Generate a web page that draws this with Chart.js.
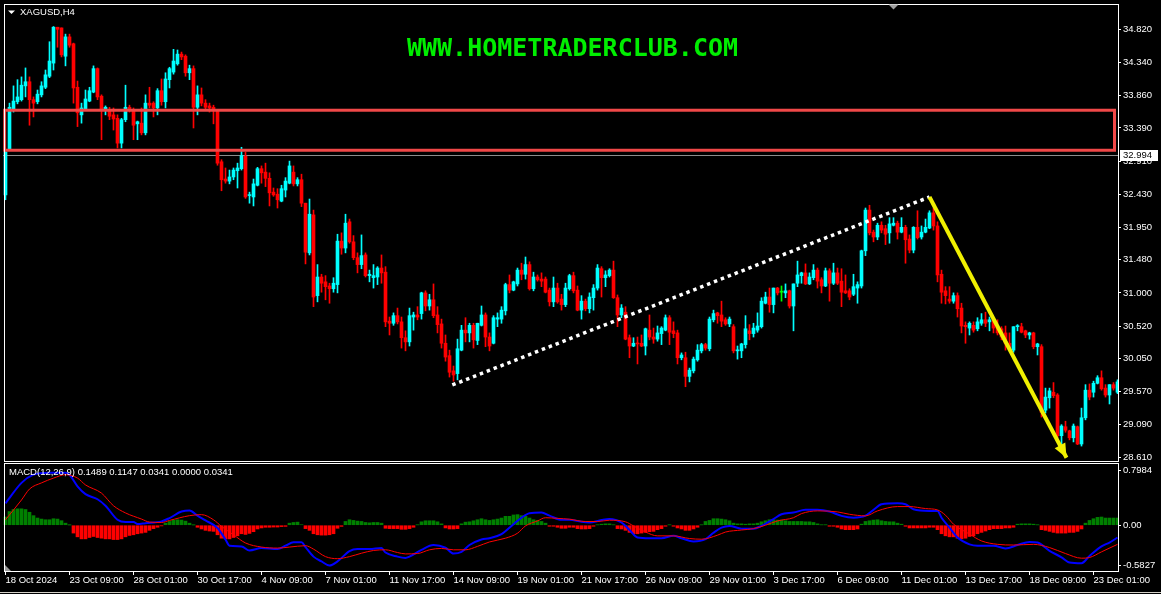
<!DOCTYPE html>
<html>
<head>
<meta charset="utf-8">
<title>XAGUSD,H4</title>
<script src="https://cdn.jsdelivr.net/npm/chart.js@4.4.1/dist/chart.umd.min.js"></script>
<style>
  html, body { margin: 0; padding: 0; background: #000; overflow: hidden; }
  #wrap { position: relative; width: 1161px; height: 594px; }
  canvas { position: absolute; left: 0; }
  #price { top: 0; }
  #macd { top: 462px; }
</style>
</head>
<body>
<div id="wrap">
  <canvas id="price" width="1161" height="462"></canvas>
  <canvas id="macd" width="1161" height="132"></canvas>
</div>
<script>
// H4 bars, one entry per bar (18 Oct 2024 17:00 ... 23 Dec 2024)
const opens = [
  32.42, 33.09, 33.65, 33.77, 33.80, 34.00, 34.06, 33.80, 33.77, 33.87,
  33.98, 34.14, 34.33, 34.85, 34.84, 34.43, 34.71, 34.61, 33.98, 33.58,
  33.67, 33.78, 33.91, 34.25, 33.85, 33.65, 33.65, 33.58, 33.53, 33.17,
  33.51, 33.69, 33.65, 33.45, 33.46, 33.32, 33.75, 33.75, 33.68, 33.93,
  33.77, 34.09, 34.20, 34.32, 34.46, 34.43, 34.19, 34.25, 33.69, 33.87,
  33.75, 33.71, 33.69, 33.64, 32.90, 32.65, 32.62, 32.68, 32.77, 32.80,
  32.98, 32.41, 32.39, 32.56, 32.80, 32.75, 32.66, 32.46, 32.43, 32.33,
  32.49, 32.59, 32.75, 32.58, 32.64, 32.30, 31.58, 32.13, 30.96, 31.23,
  31.16, 31.10, 31.06, 31.12, 31.75, 31.65, 32.03, 31.74, 31.51, 31.41,
  31.55, 31.25, 31.22, 31.23, 31.36, 31.30, 30.59, 30.56, 30.67, 30.58,
  30.35, 30.29, 30.65, 30.68, 30.70, 31.00, 30.81, 30.90, 30.68, 30.55,
  30.27, 30.09, 29.87, 29.83, 30.17, 30.46, 30.42, 30.53, 30.31, 30.53,
  30.68, 30.36, 30.27, 30.62, 30.62, 30.74, 31.12, 31.04, 31.13, 31.33,
  31.27, 31.41, 31.06, 31.23, 31.20, 31.20, 31.04, 30.87, 31.07, 30.91,
  30.83, 31.06, 31.25, 31.04, 30.75, 30.88, 30.77, 30.93, 31.07, 31.35,
  31.22, 31.25, 31.33, 30.93, 30.68, 30.72, 30.35, 30.23, 30.27, 30.27,
  30.23, 30.46, 30.36, 30.33, 30.41, 30.46, 30.64, 30.45, 30.42, 30.06,
  30.06, 29.79, 29.87, 30.03, 30.16, 30.25, 30.19, 30.61, 30.71, 30.68,
  30.61, 30.55, 30.51, 30.16, 30.16, 30.25, 30.45, 30.41, 30.46, 30.51,
  30.85, 30.94, 30.83, 31.07, 31.01, 31.00, 31.03, 30.81, 31.14, 31.25,
  31.29, 31.13, 31.22, 31.33, 31.19, 31.10, 31.32, 31.14, 31.29, 31.17,
  31.03, 31.03, 30.98, 31.07, 31.10, 31.61, 32.20, 31.88, 31.81, 31.98,
  31.93, 31.87, 31.98, 32.01, 31.88, 31.95, 31.78, 31.62, 31.95, 31.81,
  31.88, 31.94, 32.16, 31.97, 31.27, 31.03, 30.91, 30.88, 30.96, 30.78,
  30.53, 30.49, 30.53, 30.48, 30.56, 30.61, 30.58, 30.61, 30.51, 30.48,
  30.42, 30.27, 30.17, 30.51, 30.51, 30.45, 30.39, 30.42, 30.22, 30.22,
  29.30, 29.48, 29.56, 29.52, 28.93, 29.06, 29.00, 28.90, 29.06, 28.81,
  29.19, 29.59, 29.56, 29.69, 29.77, 29.62, 29.52, 29.67, 29.56
];
const highs = [
  33.07, 33.75, 34.00, 34.09, 34.13, 34.26, 34.13, 33.84, 33.94, 34.06,
  34.23, 34.64, 34.86, 34.85, 34.84, 34.75, 34.75, 34.62, 34.07, 33.75,
  33.94, 33.98, 34.29, 34.26, 33.87, 33.71, 33.69, 33.68, 33.58, 33.53,
  34.01, 33.72, 33.68, 33.49, 33.68, 33.87, 33.98, 33.77, 33.96, 34.10,
  34.19, 34.27, 34.53, 34.52, 34.49, 34.45, 34.30, 34.29, 34.00, 33.97,
  33.80, 33.75, 33.72, 33.65, 32.93, 32.81, 32.78, 32.81, 32.88, 33.11,
  33.04, 32.46, 32.65, 32.82, 32.84, 32.88, 32.74, 32.52, 32.51, 32.56,
  32.67, 32.91, 32.84, 32.67, 32.72, 32.30, 32.36, 32.20, 31.41, 31.27,
  31.25, 31.14, 31.22, 31.85, 31.87, 32.14, 32.07, 31.83, 31.58, 31.84,
  31.58, 31.33, 31.41, 31.38, 31.55, 31.38, 30.65, 30.71, 30.78, 30.65,
  30.45, 30.78, 30.72, 30.80, 31.01, 31.03, 30.98, 31.13, 30.80, 30.62,
  30.39, 30.17, 29.94, 30.33, 30.53, 30.64, 30.56, 30.56, 30.56, 30.81,
  30.71, 30.42, 30.67, 30.71, 30.80, 31.14, 31.26, 31.17, 31.36, 31.43,
  31.52, 31.45, 31.30, 31.26, 31.29, 31.23, 31.07, 31.23, 31.14, 30.98,
  31.14, 31.27, 31.30, 31.10, 30.96, 30.91, 31.00, 31.12, 31.41, 31.38,
  31.32, 31.35, 31.46, 30.97, 30.83, 30.80, 30.39, 30.35, 30.36, 30.39,
  30.49, 30.68, 30.49, 30.52, 30.51, 30.68, 30.67, 30.58, 30.46, 30.13,
  30.14, 29.91, 30.07, 30.25, 30.27, 30.27, 30.65, 30.75, 30.72, 30.88,
  30.64, 30.65, 30.54, 30.23, 30.27, 30.67, 30.54, 30.56, 30.71, 30.93,
  31.01, 31.07, 31.07, 31.08, 31.10, 31.13, 31.04, 31.13, 31.46, 31.30,
  31.42, 31.29, 31.41, 31.36, 31.22, 31.36, 31.35, 31.43, 31.36, 31.35,
  31.26, 31.06, 31.27, 31.16, 31.62, 32.23, 32.27, 31.91, 32.01, 32.03,
  31.98, 32.09, 32.09, 32.04, 32.09, 31.98, 31.84, 31.96, 32.19, 31.97,
  32.07, 32.19, 32.23, 32.03, 31.33, 31.09, 31.09, 31.00, 31.00, 30.85,
  30.58, 30.58, 30.58, 30.64, 30.70, 30.72, 30.65, 30.64, 30.61, 30.51,
  30.52, 30.42, 30.51, 30.54, 30.56, 30.46, 30.43, 30.43, 30.27, 30.25,
  29.62, 29.62, 29.70, 29.54, 29.09, 29.14, 29.01, 29.10, 29.07, 29.33,
  29.67, 29.68, 29.72, 29.80, 29.87, 29.67, 29.67, 29.70, 29.74
];
const lows = [
  32.35, 33.07, 33.62, 33.74, 33.78, 33.84, 33.43, 33.55, 33.74, 33.84,
  33.96, 34.12, 34.23, 34.56, 34.42, 34.29, 34.56, 33.75, 33.41, 33.46,
  33.65, 33.77, 33.90, 33.80, 33.22, 33.58, 33.51, 33.36, 33.10, 33.10,
  33.48, 33.62, 33.22, 33.22, 33.29, 33.29, 33.68, 33.55, 33.58, 33.72,
  33.68, 33.97, 34.17, 34.30, 34.38, 34.14, 34.09, 33.39, 33.58, 33.71,
  33.65, 33.62, 33.45, 32.85, 32.48, 32.59, 32.58, 32.64, 32.52, 32.78,
  32.37, 32.30, 32.26, 32.55, 32.59, 32.54, 32.26, 32.40, 32.23, 32.32,
  32.39, 32.58, 32.55, 32.55, 32.25, 31.42, 31.55, 30.80, 30.87, 31.01,
  30.90, 30.85, 31.01, 31.00, 31.56, 31.58, 31.72, 31.48, 31.29, 31.35,
  31.23, 31.16, 31.07, 31.12, 31.14, 30.51, 30.39, 30.53, 30.55, 30.20,
  30.16, 30.23, 30.46, 30.61, 30.62, 30.74, 30.75, 30.64, 30.42, 30.20,
  30.01, 29.78, 29.72, 29.74, 30.16, 30.29, 30.29, 30.20, 30.25, 30.52,
  30.22, 30.16, 30.26, 30.51, 30.56, 30.68, 31.00, 31.03, 31.10, 31.19,
  31.20, 31.04, 31.03, 31.17, 31.09, 31.00, 30.81, 30.80, 30.85, 30.75,
  30.80, 31.04, 31.00, 30.74, 30.62, 30.74, 30.71, 30.75, 31.04, 30.94,
  31.09, 31.23, 30.92, 30.51, 30.64, 30.32, 30.06, 30.22, 29.97, 30.22,
  30.10, 30.32, 30.27, 30.30, 30.25, 30.45, 30.25, 30.35, 29.97, 30.03,
  29.64, 29.71, 29.84, 30.01, 30.13, 30.17, 30.16, 30.58, 30.56, 30.51,
  30.53, 30.51, 30.13, 30.04, 30.06, 30.20, 30.32, 30.36, 30.43, 30.49,
  30.84, 30.72, 30.71, 30.97, 30.88, 30.93, 30.78, 30.45, 31.09, 31.14,
  31.12, 31.12, 31.19, 31.07, 31.00, 31.09, 30.88, 31.12, 31.12, 30.80,
  30.99, 30.90, 30.96, 30.85, 31.07, 31.54, 31.84, 31.74, 31.77, 31.87,
  31.70, 31.72, 31.97, 31.78, 31.87, 31.43, 31.58, 31.58, 31.78, 31.78,
  31.87, 31.93, 31.91, 31.16, 30.85, 30.84, 30.85, 30.85, 30.65, 30.42,
  30.27, 30.39, 30.43, 30.45, 30.53, 30.51, 30.45, 30.42, 30.39, 30.32,
  30.17, 30.19, 30.14, 30.45, 30.42, 30.35, 30.33, 30.19, 30.10, 29.20,
  29.26, 29.33, 29.48, 28.90, 28.77, 28.98, 28.87, 28.84, 28.80, 28.78,
  29.16, 29.45, 29.49, 29.68, 29.59, 29.49, 29.39, 29.59, 29.54
];
const closes = [
  33.04, 33.69, 33.78, 33.84, 34.01, 34.06, 33.80, 33.75, 33.88, 34.00,
  34.16, 34.36, 34.85, 34.82, 34.45, 34.71, 34.59, 33.97, 33.61, 33.68,
  33.81, 33.93, 34.25, 33.84, 33.65, 33.69, 33.56, 33.52, 33.17, 33.51,
  33.69, 33.65, 33.43, 33.48, 33.32, 33.75, 33.72, 33.68, 33.93, 33.77,
  34.10, 34.25, 34.36, 34.46, 34.42, 34.19, 34.25, 33.69, 33.87, 33.75,
  33.69, 33.68, 33.64, 32.88, 32.64, 32.62, 32.68, 32.78, 32.81, 32.99,
  32.39, 32.42, 32.58, 32.80, 32.74, 32.66, 32.45, 32.42, 32.35, 32.51,
  32.62, 32.84, 32.58, 32.64, 32.30, 31.59, 32.14, 30.94, 31.23, 31.14,
  31.09, 31.06, 31.14, 31.75, 31.65, 32.01, 31.74, 31.51, 31.41, 31.54,
  31.25, 31.27, 31.25, 31.36, 31.29, 30.58, 30.56, 30.67, 30.58, 30.35,
  30.29, 30.67, 30.68, 30.65, 31.00, 30.81, 30.90, 30.67, 30.54, 30.27,
  30.07, 29.85, 29.81, 30.19, 30.46, 30.42, 30.53, 30.32, 30.56, 30.68,
  30.36, 30.23, 30.64, 30.64, 30.75, 31.12, 31.04, 31.16, 31.33, 31.27,
  31.41, 31.06, 31.23, 31.19, 31.17, 31.01, 30.87, 31.07, 30.87, 30.83,
  31.07, 31.25, 31.03, 30.75, 30.88, 30.77, 30.94, 31.07, 31.36, 31.22,
  31.26, 31.33, 30.93, 30.68, 30.78, 30.33, 30.23, 30.27, 30.26, 30.23,
  30.48, 30.36, 30.33, 30.42, 30.49, 30.64, 30.43, 30.41, 30.06, 30.10,
  29.79, 29.88, 30.04, 30.17, 30.25, 30.20, 30.62, 30.70, 30.67, 30.59,
  30.55, 30.62, 30.16, 30.17, 30.26, 30.48, 30.41, 30.49, 30.52, 30.88,
  30.94, 30.83, 31.07, 31.00, 31.01, 31.03, 30.81, 31.13, 31.26, 31.29,
  31.13, 31.23, 31.33, 31.17, 31.10, 31.32, 31.14, 31.29, 31.14, 31.01,
  31.00, 30.94, 31.09, 31.12, 31.61, 32.20, 31.87, 31.81, 31.98, 31.91,
  31.85, 32.00, 32.01, 31.88, 31.95, 31.77, 31.62, 31.95, 31.80, 31.88,
  31.95, 32.16, 31.97, 31.26, 31.01, 30.96, 30.88, 30.96, 30.77, 30.52,
  30.51, 30.56, 30.46, 30.58, 30.61, 30.56, 30.61, 30.49, 30.42, 30.36,
  30.27, 30.20, 30.51, 30.52, 30.43, 30.39, 30.42, 30.22, 30.26, 29.27,
  29.49, 29.58, 29.51, 28.93, 29.07, 29.01, 28.90, 29.07, 28.81, 29.19,
  29.59, 29.49, 29.69, 29.77, 29.61, 29.52, 29.67, 29.62, 29.71
];

// MACD(12,26,9) histogram, one per bar
const macdHist = [
  0.12, 0.20, 0.23, 0.24, 0.24, 0.23, 0.19, 0.14, 0.105, 0.09,
  0.08, 0.08, 0.095, 0.09, 0.066, 0.03, 0.003, -0.115, -0.17, -0.20,
  -0.20, -0.18, -0.165, -0.18, -0.19, -0.20, -0.20, -0.21, -0.21, -0.20,
  -0.17, -0.15, -0.14, -0.125, -0.115, -0.105, -0.075, -0.05, -0.03, -0.01,
  0.03, 0.055, 0.075, 0.08, 0.075, 0.06, 0.03, 0.003, -0.03, -0.055,
  -0.075, -0.085, -0.09, -0.14, -0.19, -0.20, -0.20, -0.18, -0.155, -0.125,
  -0.135, -0.12, -0.095, -0.055, -0.04, -0.03, -0.03, -0.027, -0.027, -0.02,
  -0.017, 0.03, 0.04, 0.045, 0.007, -0.05, -0.075, -0.125, -0.14, -0.145,
  -0.145, -0.14, -0.125, -0.045, -0.017, 0.055, 0.08, 0.07, 0.06, 0.055,
  0.04, 0.035, 0.04, 0.04, 0.03, -0.045, -0.05, -0.05, -0.05, -0.06,
  -0.06, -0.05, -0.03, 0.005, 0.05, 0.065, 0.065, 0.065, 0.05, 0.02,
  -0.04, -0.055, -0.055, -0.05, 0.02, 0.045, 0.05, 0.065, 0.08, 0.095,
  0.08, 0.07, 0.08, 0.09, 0.105, 0.13, 0.13, 0.15, 0.155, 0.14,
  0.13, 0.105, 0.08, 0.07, 0.055, 0.03, -0.015, -0.015, -0.03, -0.045,
  -0.045, -0.03, -0.03, -0.05, -0.055, -0.055, -0.05, -0.015, 0.005, 0.015,
  0.02, 0.02, 0.005, -0.05, -0.055, -0.075, -0.105, -0.125, -0.125, -0.115,
  -0.105, -0.095, -0.09, -0.065, -0.05, -0.015, 0.005, -0.015, -0.04, -0.055,
  -0.075, -0.075, -0.055, -0.03, 0.005, 0.055, 0.07, 0.095, 0.095, 0.09,
  0.08, 0.065, 0.03, 0.02, 0.02, 0.015, 0.02, 0.02, 0.03, 0.05,
  0.065, 0.08, 0.08, 0.075, 0.075, 0.065, 0.055, 0.055, 0.055, 0.055,
  0.05, 0.05, 0.04, 0.02, 0.005, 0.005, -0.015, -0.015, -0.03, -0.055,
  -0.065, -0.065, -0.065, -0.055, 0.015, 0.055, 0.065, 0.075, 0.08, 0.065,
  0.055, 0.05, 0.05, 0.03, 0.015, -0.015, -0.04, -0.04, -0.04, -0.04,
  -0.04, -0.03, -0.03, -0.065, -0.125, -0.155, -0.17, -0.17, -0.19, -0.20,
  -0.19, -0.165, -0.155, -0.125, -0.105, -0.085, -0.065, -0.05, -0.05, -0.05,
  -0.04, -0.04, -0.03, 0.015, 0.02, 0.02, 0.02, 0.015, 0.005, -0.065,
  -0.075, -0.09, -0.105, -0.115, -0.115, -0.115, -0.105, -0.105, -0.09, -0.055,
  0.03, 0.07, 0.095, 0.115, 0.12, 0.105, 0.105, 0.105, 0.105
];

// MACD main line, read at these bars
const macdX = [0, 4, 7, 11, 15, 16, 18, 20, 23, 25, 28, 30, 32, 33, 35, 39, 41, 44, 46, 48,
  50, 53, 55, 56, 59, 61, 64, 68, 70, 72, 74, 75, 77, 79, 81, 83, 86, 88, 91, 94,
  95, 98, 100, 101, 104, 107, 110, 112, 114, 116, 119, 121, 124, 127, 129, 131, 134, 136, 139, 141,
  144, 146, 149, 151, 154, 156, 158, 161, 164, 167, 169, 172, 175, 177, 179, 181, 184, 187, 189, 192,
  194, 197, 200, 203, 206, 209, 212, 215, 217, 219, 223, 225, 227, 231, 233, 234, 236, 238, 241, 243,
  247, 250, 253, 256, 258, 261, 264, 266, 269, 271, 274, 276, 278];
const macdY = [0.32, 0.62, 0.74, 0.77, 0.77, 0.74, 0.57, 0.455, 0.38, 0.285, 0.08, 0.046, 0.046, 0.017, 0.03, 0.056, 0.105, 0.2, 0.217, 0.14,
  0.07, -0.04, -0.21, -0.30, -0.31, -0.37, -0.335, -0.35, -0.30, -0.25, -0.25, -0.32, -0.46, -0.53, -0.59, -0.53, -0.38, -0.35, -0.35, -0.335,
  -0.40, -0.46, -0.48, -0.46, -0.36, -0.29, -0.33, -0.415, -0.39, -0.29, -0.21, -0.19, -0.13, 0.015, 0.11, 0.175, 0.185, 0.14, 0.08, 0.08,
  0.05, 0.04, 0.075, 0.09, 0.04, -0.07, -0.18, -0.19, -0.19, -0.155, -0.19, -0.24, -0.205, -0.11, -0.035, -0.01, -0.05, -0.05, -0.01, 0.09,
  0.16, 0.185, 0.225, 0.225, 0.2, 0.137, 0.11, 0.14, 0.225, 0.307, 0.32, 0.307, 0.234, 0.21, 0.21, 0.11, -0.034, -0.18, -0.28, -0.30,
  -0.30, -0.34, -0.29, -0.244, -0.254, -0.375, -0.47, -0.546, -0.556, -0.45, -0.31, -0.254, -0.18];

// signal line
const sigX = [0, 4, 6, 9, 12, 15, 18, 20, 24, 27, 30, 34, 36, 39, 41, 46, 49, 52, 54, 57,
  60, 64, 68, 71, 75, 77, 80, 83, 86, 89, 92, 95, 98, 100, 103, 106, 109, 112, 115, 118,
  121, 125, 128, 130, 133, 135, 138, 141, 145, 148, 151, 155, 157, 160, 163, 167, 171, 174, 178, 180,
  184, 187, 190, 193, 197, 199, 203, 208, 211, 215, 218, 223, 226, 230, 233, 235, 237, 241, 244, 248,
  252, 257, 261, 265, 269, 271, 274, 278];
const sigY = [0.08, 0.37, 0.53, 0.62, 0.69, 0.74, 0.69, 0.59, 0.47, 0.285, 0.18, 0.09, 0.046, 0.04, 0.07, 0.14, 0.155, 0.08, -0.017, -0.14,
  -0.26, -0.32, -0.335, -0.32, -0.30, -0.35, -0.46, -0.49, -0.46, -0.41, -0.37, -0.36, -0.40, -0.42, -0.415, -0.36, -0.34, -0.36, -0.36, -0.31,
  -0.245, -0.19, -0.117, -0.01, 0.063, 0.11, 0.1, 0.088, 0.054, 0.054, 0.073, 0.05, -0.01, -0.1, -0.156, -0.156, -0.195, -0.205, -0.146, -0.1,
  -0.07, -0.05, 0, 0.063, 0.11, 0.17, 0.21, 0.195, 0.16, 0.137, 0.21, 0.273, 0.273, 0.244, 0.224, 0.146, 0.015, -0.13, -0.23, -0.28,
  -0.29, -0.28, -0.327, -0.415, -0.483, -0.473, -0.39, -0.28];

// time axis: one label every 16 bars
const labelIdx = [0, 16, 32, 48, 64, 80, 96, 112, 128, 144, 160, 176, 192, 208, 224, 240, 256, 272];
const timeLabels = ['18 Oct 2024', '23 Oct 09:00', '28 Oct 01:00', '30 Oct 17:00', '4 Nov 09:00', '7 Nov 01:00',
  '11 Nov 17:00', '14 Nov 09:00', '19 Nov 01:00', '21 Nov 17:00', '26 Nov 09:00', '29 Nov 01:00',
  '3 Dec 17:00', '6 Dec 09:00', '11 Dec 01:00', '13 Dec 17:00', '18 Dec 09:00', '23 Dec 01:00'];

const priceTicks = [34.82, 34.34, 33.86, 33.39, 32.91, 32.43, 31.95, 31.48, 31.00, 30.52, 30.05, 29.57, 29.09, 28.61];
const macdTicks = [0.7984, 0, -0.5827];
const macdTickText = ['0.7984', '0.00', '-0.5827'];

// drawn objects (bar index, price)
const bidPrice = 32.994;
const zoneX = [-0.2, 277.25];
const zoneY = [33.067, 33.647];
const channelX = [111.7, 231];
const channelY = [29.665, 32.39];
const arrowX = [231, 265.25];
const arrowY = [32.39, 28.61];

const BULL = '#00ffff';
const BEAR = '#ff0000';
const DOJI = '#00ff00';
const X_MIN = -0.625;
const X_MAX = 278.375;

Chart.defaults.font.family = "'Liberation Sans', Arial, sans-serif";
Chart.defaults.font.size = 9.5;
Chart.defaults.color = '#ffffff';

const idx = closes.map((_, i) => i);
const candleColor = idx.map(i => closes[i] > opens[i] ? BULL : (closes[i] < opens[i] ? BEAR : DOJI));

function drawFrame(ctx, a, top, bottom) {
    ctx.save();
    ctx.strokeStyle = '#ffffff';
    ctx.lineWidth = 1;
    ctx.strokeRect(a.left + 1.5, top, a.right - a.left - 2, bottom - top);
    ctx.restore();
}

// keep the axis from reserving room for half a label above/below the plot
function fitRightAxis(s) {
    s.width = 42;
    s.paddingTop = 0;
    s.paddingBottom = 0;
}

const priceOverlay = {
    id: 'priceOverlay',
    beforeDatasetsDraw(chart) {
        const { ctx, chartArea: a, scales: { y } } = chart;
        const yb = Math.round(y.getPixelForValue(bidPrice)) + 0.5;
        ctx.save();
        ctx.strokeStyle = '#8c8c8c';
        ctx.lineWidth = 1;
        ctx.beginPath();
        ctx.moveTo(a.left, yb);
        ctx.lineTo(a.right, yb);
        ctx.stroke();
        ctx.restore();
    },
    afterDatasetsDraw(chart) {
        const { ctx, scales: { x, y } } = chart;
        ctx.save();
        // support zone
        const x0 = x.getPixelForValue(zoneX[0]);
        const x1 = x.getPixelForValue(zoneX[1]);
        const yTop = y.getPixelForValue(zoneY[1]);
        const yBot = y.getPixelForValue(zoneY[0]);
        ctx.strokeStyle = '#f04848';
        ctx.lineWidth = 3;
        ctx.strokeRect(x0, yTop, x1 - x0, yBot - yTop);

        // arrow head
        const ax0 = x.getPixelForValue(arrowX[0]), ay0 = y.getPixelForValue(arrowY[0]);
        const ax1 = x.getPixelForValue(arrowX[1]), ay1 = y.getPixelForValue(arrowY[1]);
        const ang = Math.atan2(ay1 - ay0, ax1 - ax0);
        const len = 14, half = 6;
        ctx.fillStyle = '#f0f000';
        ctx.beginPath();
        ctx.moveTo(ax1, ay1);
        ctx.lineTo(ax1 - len * Math.cos(ang) + half * Math.sin(ang), ay1 - len * Math.sin(ang) - half * Math.cos(ang));
        ctx.lineTo(ax1 - len * Math.cos(ang) - half * Math.sin(ang), ay1 - len * Math.sin(ang) + half * Math.cos(ang));
        ctx.closePath();
        ctx.fill();
        ctx.restore();
    },
    afterDraw(chart) {
        const { ctx, chartArea: a, scales: { y } } = chart;
        drawFrame(ctx, a, a.top + 0.5, a.bottom + 0.5);

        ctx.save();
        // symbol caption
        ctx.fillStyle = '#ffffff';
        ctx.beginPath();
        ctx.moveTo(8, 10.5);
        ctx.lineTo(15, 10.5);
        ctx.lineTo(11.5, 14);
        ctx.closePath();
        ctx.fill();
        ctx.font = "9.5px 'Liberation Sans', Arial, sans-serif";
        ctx.textBaseline = 'middle';
        ctx.textAlign = 'left';
        ctx.fillText('XAGUSD,H4', 20, 12.5);

        // chart shift marker
        ctx.fillStyle = '#a0a0a0';
        ctx.beginPath();
        ctx.moveTo(888.5, 4.5);
        ctx.lineTo(898.5, 4.5);
        ctx.lineTo(893.5, 9.5);
        ctx.closePath();
        ctx.fill();

        // watermark
        ctx.fillStyle = '#00ee00';
        ctx.font = "bold 25px 'DejaVu Sans Mono', monospace";
        ctx.textAlign = 'center';
        ctx.textBaseline = 'alphabetic';
        ctx.fillText('WWW.HOMETRADERCLUB.COM', 572.5, 55.5);

        // bid price label
        const yb = y.getPixelForValue(bidPrice);
        ctx.fillStyle = '#ffffff';
        ctx.fillRect(a.right + 1, Math.round(yb) - 5, 38, 11);
        ctx.fillStyle = '#000000';
        ctx.font = "9.5px 'Liberation Sans', Arial, sans-serif";
        ctx.textAlign = 'left';
        ctx.textBaseline = 'middle';
        ctx.fillText(bidPrice.toFixed(3), a.right + 4, Math.round(yb) + 0.5);
        ctx.restore();
    }
};

const macdOverlay = {
    id: 'macdOverlay',
    afterDraw(chart) {
        const { ctx, chartArea: a } = chart;
        drawFrame(ctx, a, a.top - 0.5, a.bottom + 0.5);
        ctx.save();
        ctx.fillStyle = '#ffffff';
        ctx.font = "9.5px 'Liberation Sans', Arial, sans-serif";
        ctx.textBaseline = 'middle';
        ctx.fillText('MACD(12,26,9) 0.1489 0.1147 0.0341 0.0000 0.0341', 9, 10.5);

        ctx.fillStyle = '#9a9a9a';
        ctx.beginPath();
        ctx.moveTo(5, a.bottom - 6);
        ctx.lineTo(5, a.bottom);
        ctx.lineTo(11, a.bottom);
        ctx.closePath();
        ctx.fill();

        ctx.fillStyle = '#d4d0c8';
        ctx.fillRect(0, chart.height - 2, chart.width, 1);
        ctx.restore();
    }
};

const axisFont = { family: "'Liberation Sans', Arial, sans-serif", size: 9.5 };

new Chart(document.getElementById('price'), {
    type: 'bar',
    data: {
        datasets: [
            {
                label: 'wick',
                data: idx.map(i => ({ x: i, y: [lows[i], highs[i]] })),
                backgroundColor: candleColor,
                barThickness: 1,
                grouped: false,
                order: 4
            },
            {
                label: 'body',
                data: idx.map(i => ({ x: i, y: [opens[i], closes[i]] })),
                backgroundColor: candleColor,
                barThickness: 3,
                minBarLength: 1,
                grouped: false,
                order: 3
            },
            {
                type: 'line',
                label: 'channel',
                data: channelX.map((v, k) => ({ x: v, y: channelY[k] })),
                borderColor: '#ffffff',
                borderWidth: 3.5,
                borderDash: [3.5, 3.9],
                borderCapStyle: 'butt',
                pointRadius: 0,
                order: 1
            },
            {
                type: 'line',
                label: 'arrow',
                data: arrowX.map((v, k) => ({ x: v, y: arrowY[k] })),
                borderColor: '#f0f000',
                borderWidth: 4,
                borderCapStyle: 'butt',
                pointRadius: 0,
                order: 0
            }
        ]
    },
    options: {
        responsive: false,
        animation: false,
        devicePixelRatio: 1,
        events: [],
        layout: { padding: { left: 3, top: 4, right: 0, bottom: 1 } },
        plugins: { legend: { display: false }, tooltip: { enabled: false } },
        scales: {
            x: { type: 'linear', min: X_MIN, max: X_MAX, offset: false, display: false },
            y: {
                type: 'linear',
                position: 'right',
                min: 28.5635,
                max: 35.1867,
                afterBuildTicks: s => { s.ticks = priceTicks.map(v => ({ value: v })); },
                afterFit: fitRightAxis,
                grid: { drawOnChartArea: false, color: '#ffffff', tickLength: 2 },
                border: { display: false },
                ticks: { color: '#ffffff', padding: 2, autoSkip: false, font: axisFont, callback: v => v.toFixed(3) }
            }
        }
    },
    plugins: [priceOverlay]
});

new Chart(document.getElementById('macd'), {
    type: 'bar',
    data: {
        datasets: [
            {
                type: 'line',
                label: 'MACD',
                data: macdX.map((v, k) => ({ x: v, y: macdY[k] })),
                borderColor: '#0000ff',
                borderWidth: 2,
                pointRadius: 0,
                cubicInterpolationMode: 'monotone',
                order: 1
            },
            {
                type: 'line',
                label: 'Signal',
                data: sigX.map((v, k) => ({ x: v, y: sigY[k] })),
                borderColor: '#ff0000',
                borderWidth: 1,
                pointRadius: 0,
                cubicInterpolationMode: 'monotone',
                order: 0
            },
            {
                label: 'Histogram',
                data: idx.map(i => ({ x: i, y: macdHist[i] })),
                backgroundColor: macdHist.map(v => v >= 0 ? '#008000' : '#ff0000'),
                barThickness: 3,
                grouped: false,
                order: 2
            }
        ]
    },
    options: {
        responsive: false,
        animation: false,
        devicePixelRatio: 1,
        events: [],
        layout: { padding: { left: 3, top: 2, right: 0, bottom: 0 } },
        plugins: { legend: { display: false }, tooltip: { enabled: false } },
        scales: {
            x: {
                type: 'linear',
                min: X_MIN,
                max: X_MAX,
                offset: false,
                position: 'bottom',
                afterBuildTicks: s => { s.ticks = labelIdx.map(v => ({ value: v })); },
                afterFit: s => { s.height = 23; s.paddingLeft = 0; s.paddingRight = 0; },
                grid: { drawOnChartArea: false, offset: false, color: '#ffffff', tickLength: 4 },
                border: { display: false },
                ticks: {
                    color: '#ffffff', padding: 0, align: 'start', maxRotation: 0, autoSkip: false,
                    font: axisFont, callback: (v, k) => timeLabels[k]
                }
            },
            y: {
                type: 'linear',
                position: 'right',
                min: -0.6705,
                max: 0.8965,
                afterBuildTicks: s => { s.ticks = macdTicks.map(v => ({ value: v })); },
                afterFit: fitRightAxis,
                grid: { drawOnChartArea: false, color: '#ffffff', tickLength: 2 },
                border: { display: false },
                ticks: { color: '#ffffff', padding: 2, autoSkip: false, font: axisFont, callback: (v, k) => macdTickText[k] }
            }
        }
    },
    plugins: [macdOverlay]
});
</script>
</body>
</html>
